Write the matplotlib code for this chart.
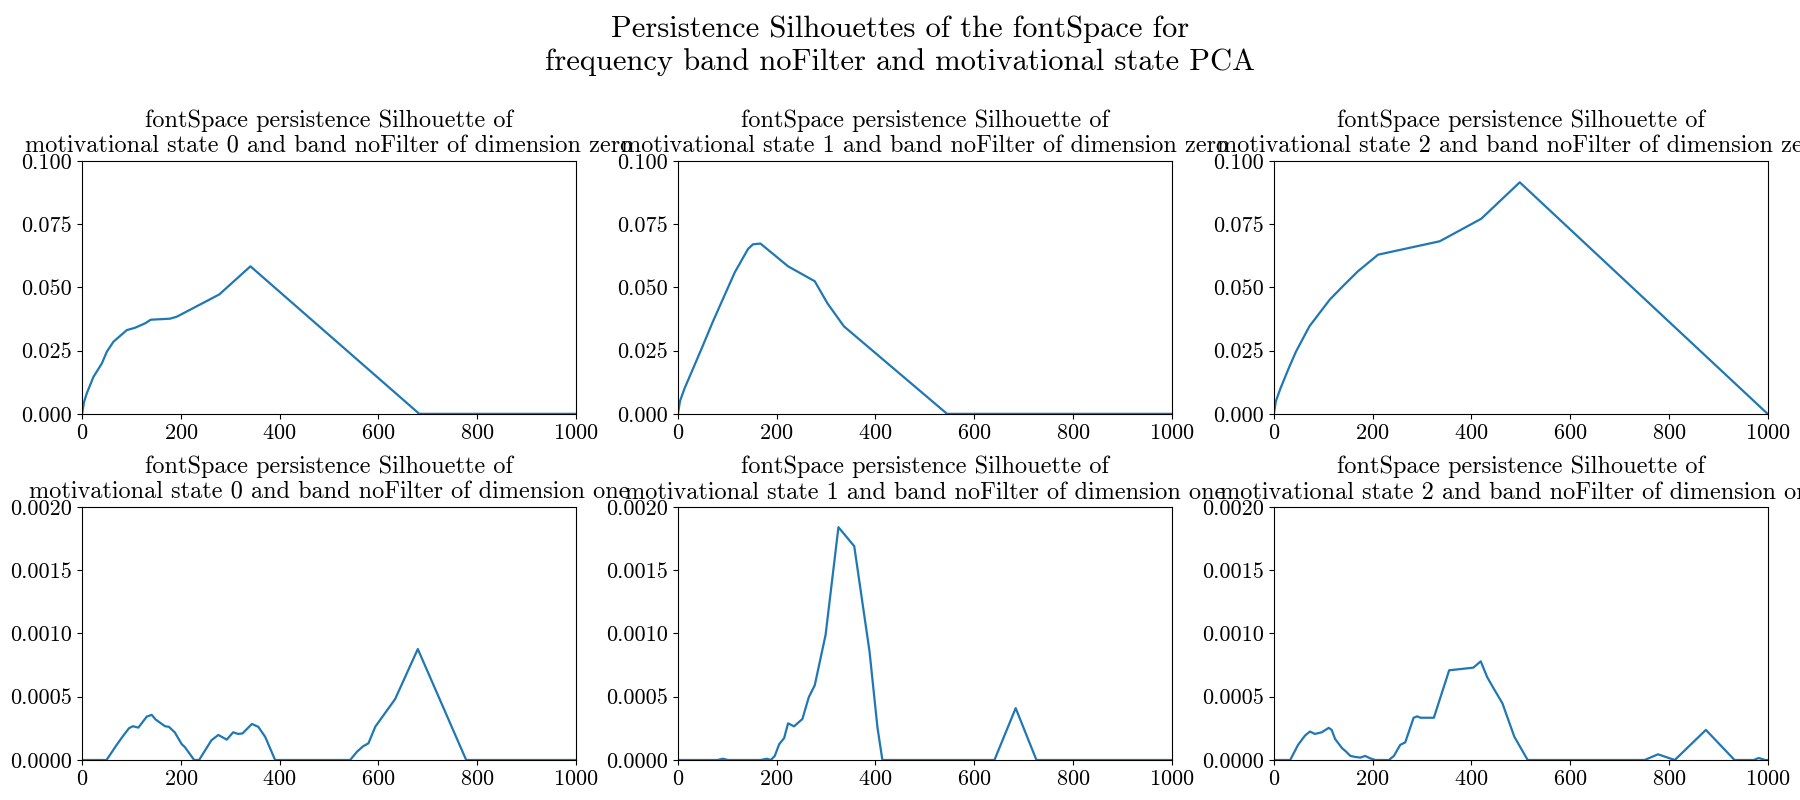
import matplotlib
matplotlib.use("Agg")
import matplotlib.pyplot as plt

plt.rcParams['font.family'] = 'serif'
plt.rcParams['font.serif'] = ['cmr10']
plt.rcParams['axes.formatter.use_mathtext'] = True
plt.rcParams['mathtext.fontset'] = 'cm'

# ---- data ----
states = ["0", "1", "2"]
dims = ["zero", "one"]

# dimension zero silhouettes
x_d0_s0 = [0, 4, 9.5, 23, 40, 50, 63.5, 90.6, 107, 128, 139, 178, 192, 278, 341, 683, 1000]
y_d0_s0 = [0, 0.0047, 0.0081, 0.0146, 0.0199, 0.0245, 0.0285, 0.0331, 0.0340, 0.0358,
           0.0372, 0.0376, 0.0384, 0.0472, 0.0583, 0, 0]

x_d0_s1 = [0, 4, 13, 47, 71, 115, 142, 152, 167, 223, 277, 303, 336, 545, 1000]
y_d0_s1 = [0, 0.0050, 0.0099, 0.0254, 0.0366, 0.0559, 0.0652, 0.0670, 0.0673, 0.0583,
           0.0524, 0.0436, 0.0346, 0, 0]

x_d0_s2 = [0, 4, 13, 30, 45, 72, 113, 140, 170, 211, 336, 420, 498, 1000]
y_d0_s2 = [0, 0.0050, 0.0099, 0.0180, 0.0247, 0.0346, 0.0451, 0.0505, 0.0563, 0.0629,
           0.0682, 0.0771, 0.0915, 0]

# dimension one silhouettes
x_d1_s0 = [0, 49.5, 70, 83, 95, 103, 114, 131, 141, 149, 168, 176, 188, 202, 208, 227, 237,
           262, 276, 293, 306, 316, 325, 344, 357, 371, 391, 543, 557, 569, 580, 594, 634,
           680, 778, 1000]
y_d1_s0 = [0, 0, 0.000119, 0.000190, 0.000251, 0.000267, 0.000256, 0.000343, 0.000357,
           0.000320, 0.000267, 0.000262, 0.000217, 0.000124, 0.000103, 0, 0,
           0.000156, 0.000198, 0.000161, 0.000219, 0.000206, 0.000210, 0.000285, 0.000262,
           0.000182, 0, 0, 0.000066, 0.000108, 0.000132, 0.000264, 0.000481,
           0.000877, 0, 0]

x_d1_s1 = [0, 80, 91, 101, 167, 180, 188, 196, 205, 215, 223, 235, 252, 265, 277, 299, 325,
           357, 388, 404, 414, 641, 684, 726, 1000]
y_d1_s1 = [0, 0, 0.00001, 0, 0, 0.00001, 0, 0.000032, 0.000125, 0.000173, 0.000290,
           0.000266, 0.000324, 0.000497, 0.000590, 0.000990, 0.001840, 0.001690,
           0.000856, 0.000258, 0, 0, 0.000410, 0, 0]

x_d1_s2 = [0, 33, 49, 63, 73, 83, 97, 111, 117, 124, 138, 146, 155, 165, 175, 185, 195, 205,
           233, 243, 256, 266, 283, 290, 297, 324, 355, 404, 419, 432, 443, 463, 487, 514,
           751, 778, 812, 875, 933, 972, 982, 995, 1000]
y_d1_s2 = [0, 0, 0.000120, 0.000193, 0.000225, 0.000206, 0.000219, 0.000254, 0.000238,
           0.000166, 0.000094, 0.000067, 0.000032, 0.000024, 0.000019, 0.000032, 0.000013,
           0, 0, 0.000032, 0.000120, 0.000139, 0.000334, 0.000345, 0.000334, 0.000334,
           0.000709, 0.000730, 0.000780, 0.000655, 0.000580, 0.000447, 0.000184, 0,
           0, 0.000045, 0, 0.000238, 0, 0, 0.000016, 0, 0]

series = {
    ("zero", "0"): (x_d0_s0, y_d0_s0),
    ("zero", "1"): (x_d0_s1, y_d0_s1),
    ("zero", "2"): (x_d0_s2, y_d0_s2),
    ("one", "0"): (x_d1_s0, y_d1_s0),
    ("one", "1"): (x_d1_s1, y_d1_s1),
    ("one", "2"): (x_d1_s2, y_d1_s2),
}
ylims = {"zero": (0, 0.1), "one": (0, 0.002)}
y_ticks = {"zero": [0, 0.025, 0.05, 0.075, 0.1],
           "one": [0, 0.0005, 0.001, 0.0015, 0.002]}
y_fmt = {"zero": "{:.3f}", "one": "{:.4f}"}
x_ticks = [0, 200, 400, 600, 800, 1000]

fig, axes = plt.subplots(2, 3, figsize=(18, 8), dpi=100)
fig.subplots_adjust(left=0.0456, right=0.982, bottom=0.05, top=0.799,
                    wspace=0.207, hspace=0.368)

for r, d in enumerate(dims):
    for c, s in enumerate(states):
        ax = axes[r, c]
        xs, ys = series[(d, s)]
        ax.plot(xs, ys, color='#1f77b4', lw=1.6)
        ax.set_xlim(0, 1000)
        ax.set_ylim(*ylims[d])
        ax.set_xticks(x_ticks)
        ax.set_yticks(y_ticks[d])
        ax.set_yticklabels([y_fmt[d].format(v) for v in y_ticks[d]])
        ax.tick_params(labelsize=16)
        ax.set_title("fontSpace persistence Silhouette of\n"
                     f"motivational state {s} and band noFilter of dimension {d}",
                     fontsize=17.5)

fig.suptitle("Persistence Silhouettes of the fontSpace for\n"
             "frequency band noFilter and motivational state PCA",
             fontsize=22, y=0.943, va='center')

fig.savefig("out.png", dpi=100)
